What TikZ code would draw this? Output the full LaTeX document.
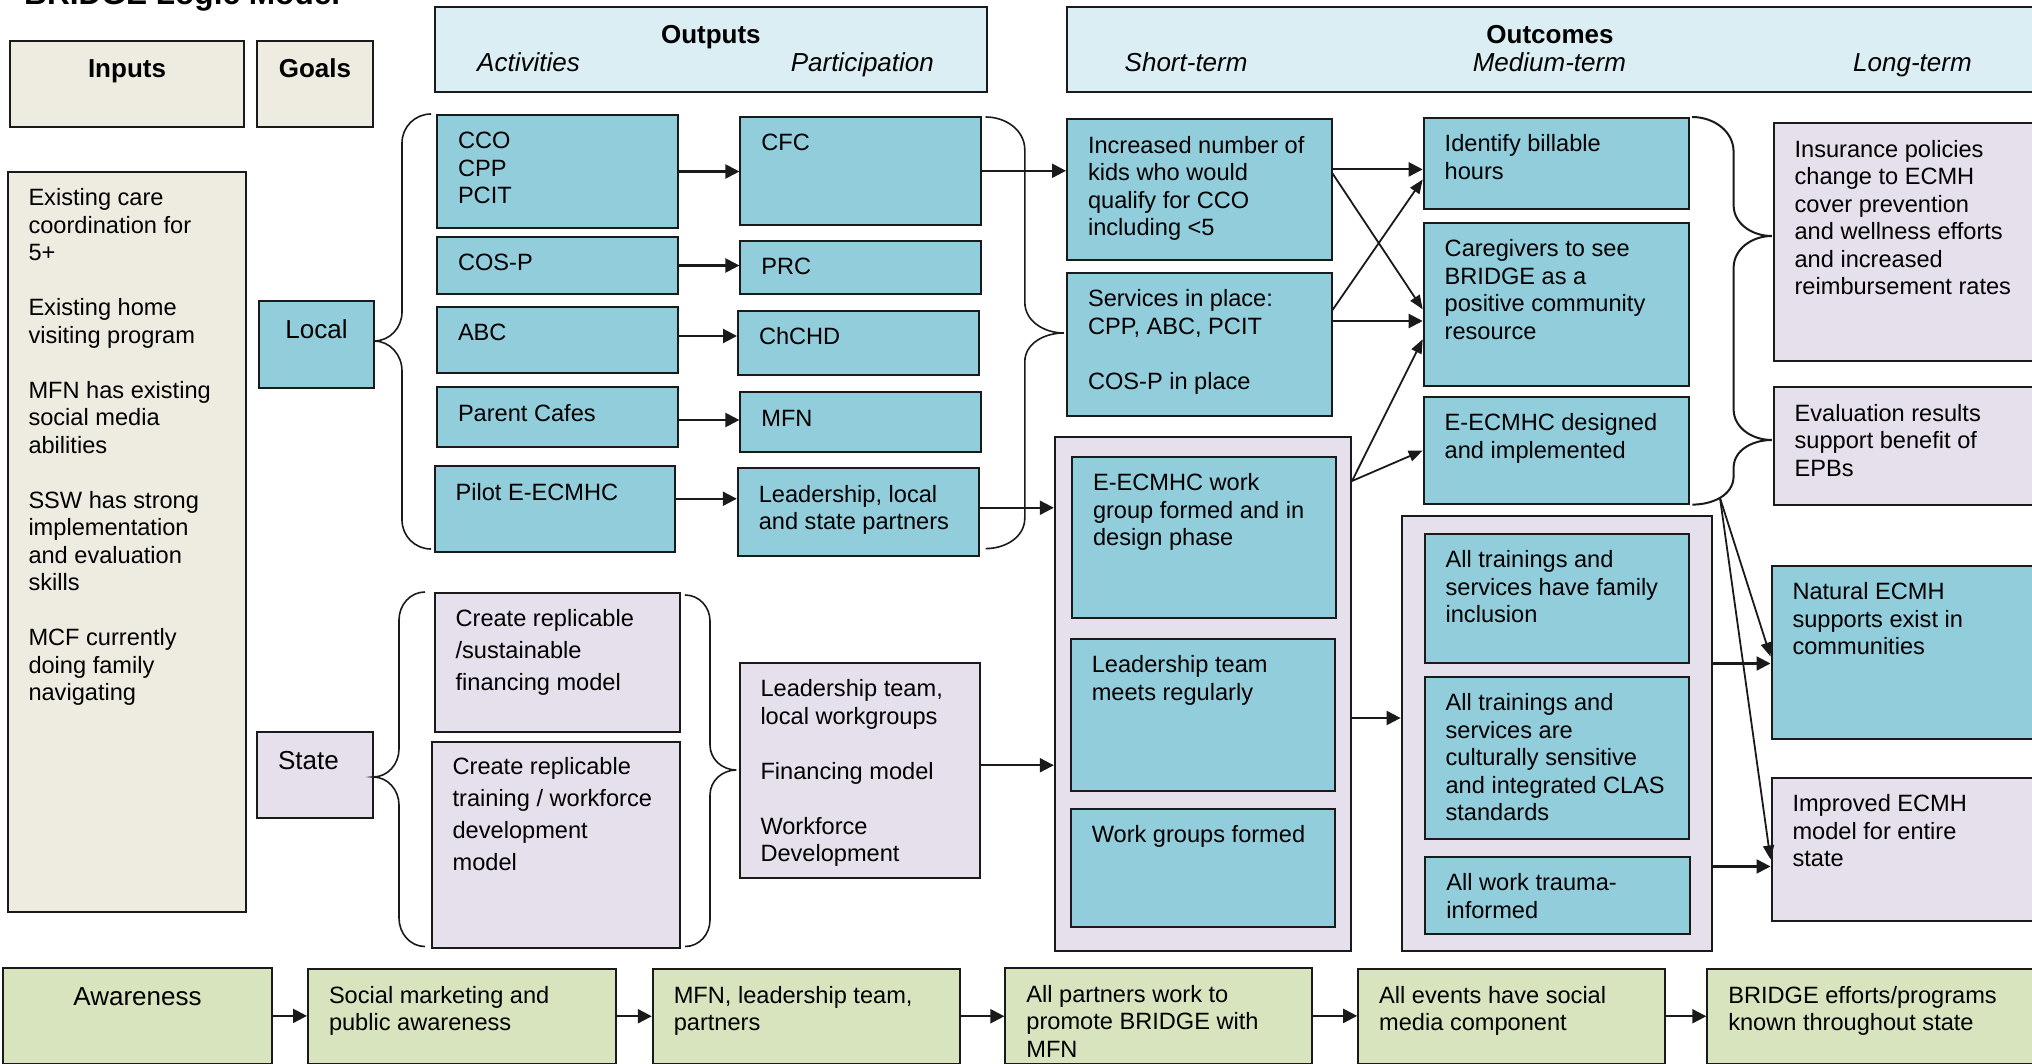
\documentclass[tikz,border=0pt]{standalone}
\usepackage{fontspec}
\setmainfont{Liberation Sans}
\usepackage{tikz}
\usetikzlibrary{arrows.meta}

\definecolor{aqua}{HTML}{92CDDC}
\definecolor{lilac}{HTML}{E5E0EC}
\definecolor{paleblue}{HTML}{DAEEF3}
\definecolor{parchment}{HTML}{EEECE1}
\definecolor{olive}{HTML}{D7E4BD}
\definecolor{edge}{HTML}{1A1A1A}

\newcommand{\cellbox}[4][34]{\parbox[t][#3pt][t]{#2pt}{\raggedright\leftskip=21pt\rule{0pt}{#1pt}#4}}
\newcommand{\headbox}[3]{\parbox[t][#2pt][t]{#1pt}{\centering\fontsize{26}{30}\selectfont\rule{0pt}{37pt}#3}}
\newcommand{\blankline}{\\[27.5pt]}

\begin{document}
\begin{tikzpicture}[x=1pt, y=-1pt,
                   font=\fontsize{23.6}{27.5}\selectfont,
                   box/.style={draw=edge, line width=2pt, inner sep=0pt, anchor=north west},
                   aquabox/.style={box, fill=aqua},
                   lilacbox/.style={box, fill=lilac},
                   headbar/.style={box, fill=paleblue},
                   tanbox/.style={box, fill=parchment},
                   olivebox/.style={box, fill=olive},
                   sublabel/.style={anchor=base west, inner sep=0pt, font=\itshape\fontsize{26}{30}\selectfont},
                   arr/.style={draw=edge, line width=2.2pt, -{Triangle[length=14pt,width=14pt]}},
                   slant/.style={draw=edge, line width=1.8pt, -{Triangle[length=14pt,width=11pt]}},
                   curly/.style={draw=edge, line width=1.6pt}]
  \useasboundingbox (0,0) rectangle (2032,1064);

  \node[anchor=base west, inner sep=0pt, font=\bfseries\fontsize{31.6}{36}\selectfont] (title) at (24,5) {BRIDGE Logic Model};

  % column headers
  \node[tanbox] (inputhdr) at (9,40) {\headbox{234}{86}{\bfseries Inputs}};
  \node[tanbox] (goalhdr) at (256,40) {\headbox{116}{86}{\bfseries Goals}};
  \node[headbar] (outhdr) at (434,6) {\headbox{551.7}{85}{\bfseries Outputs}};
  \node[headbar] (outchdr) at (1066,6) {\headbox{966}{85}{\bfseries Outcomes}};
  \node[sublabel] (activities) at (477,71.5) {Activities};
  \node[sublabel] (participation) at (790.6,71.5) {Participation};
  \node[sublabel] (shortterm) at (1124.5,71.5) {Short-term};
  \node[sublabel] (mediumterm) at (1472.6,71.5) {Medium-term};
  \node[sublabel] (longterm) at (1853,71.5) {Long-term};

  % inputs and goals
  \node[tanbox] (inputs) at (6.5,171) {\cellbox{238.5}{740}{Existing care\\coordination for\\5+\blankline Existing home\\visiting program\blankline MFN has existing\\social media\\abilities\blankline SSW has strong\\implementation\\and evaluation\\skills\blankline MCF currently\\doing family\\navigating}};
  \node[aquabox] (local) at (258,300.5) {\headbox{115}{86.5}{Local}};
  \node[lilacbox] (state) at (256,731) {\cellbox[37]{115.6}{85.8}{\fontsize{26}{30}\selectfont State}};

  % activities
  \node[aquabox] (cco) at (436,114) {\cellbox{240.5}{113}{CCO\\CPP\\PCIT}};
  \node[aquabox] (cosp) at (436,236) {\cellbox{240.5}{57}{COS-P}};
  \node[aquabox] (abc) at (436,306) {\cellbox{240.5}{66}{ABC}};
  \node[aquabox] (cafes) at (436,386) {\cellbox{240.5}{60}{Parent Cafes}};
  \node[aquabox] (pilot) at (433.6,465) {\cellbox{240.7}{85.5}{Pilot E-ECMHC}};
  \node[lilacbox] (repfin) at (433.6,592) {\cellbox[33]{245.1}{139}{\baselineskip=32pt Create replicable\\/sustainable\\financing model}};
  \node[lilacbox] (reptrain) at (430.6,740.5) {\cellbox[33]{248.4}{206}{\baselineskip=32pt Create replicable\\training / workforce\\development\\model}};

  % participation
  \node[aquabox] (cfc) at (739.4,115.8) {\cellbox{240.6}{108}{CFC}};
  \node[aquabox] (prc) at (739.4,240) {\cellbox{240.6}{52.7}{PRC}};
  \node[aquabox] (chchd) at (737,310) {\cellbox{241}{64}{ChCHD}};
  \node[aquabox] (mfn) at (739.4,391.4) {\cellbox{240.6}{59.4}{MFN}};
  \node[aquabox] (partners) at (736.8,467) {\cellbox{241.2}{87.5}{Leadership, local\\and state partners}};
  \node[lilacbox] (statepart) at (738.5,661.5) {\cellbox{240.5}{215.5}{Leadership team,\\local workgroups\blankline Financing model\blankline Workforce\\Development}};

  % short-term
  \node[aquabox] (kids) at (1066,118.4) {\cellbox{264.5}{140.9}{Increased number of\\kids who would\\qualify for CCO\\including <5}};
  \node[aquabox] (services) at (1066,272) {\cellbox{264.5}{143.4}{Services in place:\\CPP, ABC, PCIT\blankline COS-P in place}};
  \node[lilacbox] (shortbox) at (1053.8,436) {\parbox[t][514pt][t]{296.2pt}{\mbox{}}};
  \node[aquabox] (groupdesign) at (1071,455.6) {\cellbox{264}{161.4}{E-ECMHC work\\group formed and in\\design phase}};
  \node[aquabox] (meets) at (1069.8,637.7) {\cellbox{264.2}{152.6}{Leadership team\\meets regularly}};
  \node[aquabox] (formed) at (1069.8,807.7) {\cellbox{264.2}{118.3}{Work groups formed}};

  % medium-term
  \node[aquabox] (billable) at (1422.7,117) {\cellbox{265.3}{91}{Identify billable\\hours}};
  \node[aquabox] (caregivers) at (1422.7,222) {\cellbox{265.3}{162.6}{Caregivers to see\\BRIDGE as a\\positive community\\resource}};
  \node[aquabox] (designed) at (1422.7,396) {\cellbox{265.3}{107}{E-ECMHC designed\\and implemented}};
  \node[lilacbox] (midbox) at (1400.6,515.4) {\parbox[t][434.6pt][t]{310pt}{\mbox{}}};
  \node[aquabox] (family) at (1423.6,532.7) {\cellbox{264.4}{128.8}{All trainings and\\services have family\\inclusion}};
  \node[aquabox] (culture) at (1423.6,675.8) {\cellbox{264.4}{162.2}{All trainings and\\services are\\culturally sensitive\\and integrated CLAS\\standards}};
  \node[aquabox] (trauma) at (1424.4,855.8) {\cellbox{264.6}{76.8}{All work trauma-\\informed}};

  % long-term
  \node[lilacbox] (insurance) at (1772.6,122.3) {\cellbox{261.4}{237.7}{Insurance policies\\change to ECMH\\cover prevention\\and wellness efforts\\and increased\\reimbursement rates}};
  \node[lilacbox] (evaluation) at (1772.6,386) {\cellbox{261.4}{118}{Evaluation results\\support benefit of\\EPBs}};
  \node[aquabox] (natural) at (1770.5,564.8) {\cellbox{263.5}{173.5}{Natural ECMH\\supports exist in\\communities}};
  \node[lilacbox] (improved) at (1770.5,776.5) {\cellbox{263.5}{143.9}{Improved ECMH\\model for entire\\state}};

  % awareness row
  \node[olivebox] (awareness) at (2,967.3) {\headbox{269}{95.2}{Awareness}};
  \node[olivebox] (socmark) at (307,968) {\cellbox{307.5}{94.5}{Social marketing and\\public awareness}};
  \node[olivebox] (mfnteam) at (651.8,968) {\cellbox{307}{94.5}{MFN, leadership team,\\partners}};
  \node[olivebox] (promote) at (1004.4,967.3) {\cellbox{306.6}{95.2}{All partners work to\\promote BRIDGE with\\MFN}};
  \node[olivebox] (events) at (1357.2,968) {\cellbox{307}{94.5}{All events have social\\media component}};
  \node[olivebox] (known) at (1706.3,968) {\cellbox{327.7}{94.5}{BRIDGE efforts/programs\\known throughout state}};

  % braces
  \draw[curly] (431,114) to[out=180,in=90] (402,143) -- (402,312) to[out=-90,in=0] (374,341)
               to[out=0,in=90] (402,371) -- (402,520) to[out=-90,in=180] (431,549);
  \draw[curly] (425,592) to[out=180,in=90] (399,620) -- (399,749) to[out=-90,in=0] (373,777)
               to[out=0,in=90] (399,805) -- (399,918) to[out=-90,in=180] (425,946.5);
  \draw[curly] (685,595) to[out=0,in=90] (710,621) -- (710,745) to[out=-90,in=180] (736.4,770)
               to[out=180,in=90] (710,795) -- (710,920) to[out=-90,in=0] (685,946.5);
  \draw[curly] (985.7,117) to[out=0,in=90] (1024.8,150) -- (1024.8,302) to[out=-90,in=180] (1063.8,333)
               to[out=180,in=90] (1024.8,362) -- (1024.8,518) to[out=-90,in=0] (985.7,548.6);
  \draw[curly, line width=2pt] (1692,117) to[out=0,in=90] (1733.6,152) -- (1733.6,205) to[out=-90,in=180] (1771.8,236)
               to[out=180,in=90] (1733.6,268) -- (1733.6,409) to[out=-90,in=180] (1771.8,440)
               to[out=180,in=90] (1733.6,468) -- (1733.6,476) to[out=-90,in=0] (1692.4,504.6);
  \coordinate (bracefoot) at (1720,498);

  % activities to participation
  \draw[arr] (cco.east) -- (cco.east -| cfc.west);
  \draw[arr] (cosp.east) -- (cosp.east -| prc.west);
  \draw[arr] ([yshift=4pt]abc.east) -- ([yshift=4pt]abc.east -| chchd.west);
  \draw[arr] ([yshift=-3pt]cafes.east) -- ([yshift=-3pt]cafes.east -| mfn.west);
  \draw[arr] ([yshift=10pt]pilot.east) -- ([yshift=10pt]pilot.east -| partners.west);

  % participation to short-term
  \draw[arr] (cfc.east) -- (cfc.east -| kids.west);
  \draw[arr] ([yshift=4pt]partners.east) -- ([yshift=4pt]partners.east -| shortbox.west);
  \draw[arr] ([yshift=5pt]statepart.east) -- ([yshift=5pt]statepart.east -| shortbox.west);

  % short-term to medium-term
  \draw[arr] ([yshift=-51pt]kids.north east) -- ([yshift=-51pt]kids.north east -| billable.west);
  \draw[slant] ([yshift=-55pt]kids.north east) -- ([yshift=-5pt]caregivers.west);
  \draw[slant] ([yshift=-38pt]services.north east) -- ([yshift=-16pt]billable.west);
  \draw[arr] ([yshift=-49pt]services.north east) -- ([yshift=-49pt]services.north east -| caregivers.west);
  \draw[slant] ([yshift=-45pt]shortbox.north east) -- ([yshift=-35pt]caregivers.west);
  \draw[slant] ([yshift=-45pt]shortbox.north east) -- (designed.west);
  \draw[arr] ([yshift=-24pt]shortbox.east) -- ([yshift=-24pt]shortbox.east -| midbox.west);

  % medium-term to long-term
  \draw[arr] (family.south -| midbox.east) -- (family.south -| natural.west);
  \draw[arr] ([yshift=-17pt]improved.west -| midbox.east) -- ([yshift=-17pt]improved.west);
  \draw[slant] (bracefoot) -- ([yshift=-4pt]natural.west);
  \draw[slant] (bracefoot) -- ([yshift=-10pt]improved.west);

  % awareness chain
  \draw[arr] (awareness.east) -- (awareness.east -| socmark.west);
  \draw[arr] (socmark.east) -- (socmark.east -| mfnteam.west);
  \draw[arr] (mfnteam.east) -- (mfnteam.east -| promote.west);
  \draw[arr] (promote.east) -- (promote.east -| events.west);
  \draw[arr] (events.east) -- (events.east -| known.west);
\end{tikzpicture}
\end{document}
